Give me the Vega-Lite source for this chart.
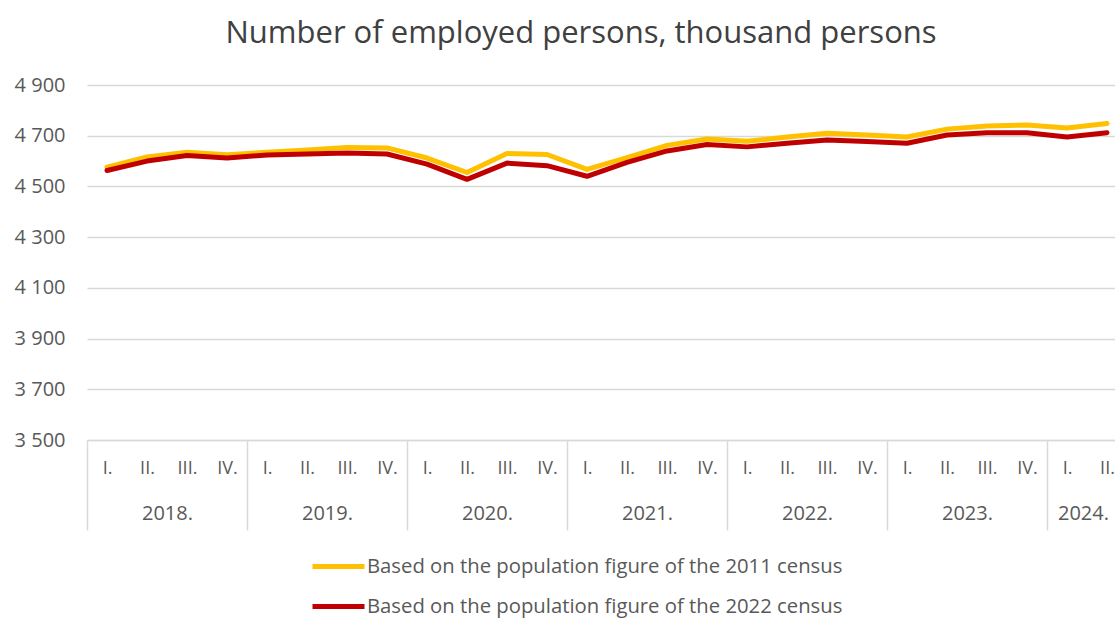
{
  "$schema": "https://vega.github.io/schema/vega-lite/v6.json",
  "autosize": {"type": "none"},
  "width": 1028,
  "height": 355,
  "padding": {"left": 87, "top": 85, "right": 0, "bottom": 179},
  "background": "white",
  "config": {
    "view": {"stroke": null},
    "font": "Open Sans"
  },
  "title": {
    "text": "Number of employed persons, thousand persons",
    "fontSize": 31,
    "font": "Open Sans",
    "fontWeight": "normal",
    "color": "#404040",
    "anchor": "middle",
    "dx": -20,
    "offset": 25
  },
  "data": {
    "values": [
      {"i": 0, "s": "Based on the population figure of the 2011 census", "v": 4576},
      {"i": 1, "s": "Based on the population figure of the 2011 census", "v": 4616},
      {"i": 2, "s": "Based on the population figure of the 2011 census", "v": 4635},
      {"i": 3, "s": "Based on the population figure of the 2011 census", "v": 4625},
      {"i": 4, "s": "Based on the population figure of the 2011 census", "v": 4635},
      {"i": 5, "s": "Based on the population figure of the 2011 census", "v": 4644},
      {"i": 6, "s": "Based on the population figure of the 2011 census", "v": 4654},
      {"i": 7, "s": "Based on the population figure of the 2011 census", "v": 4652},
      {"i": 8, "s": "Based on the population figure of the 2011 census", "v": 4612},
      {"i": 9, "s": "Based on the population figure of the 2011 census", "v": 4555},
      {"i": 10, "s": "Based on the population figure of the 2011 census", "v": 4630},
      {"i": 11, "s": "Based on the population figure of the 2011 census", "v": 4626},
      {"i": 12, "s": "Based on the population figure of the 2011 census", "v": 4567},
      {"i": 13, "s": "Based on the population figure of the 2011 census", "v": 4614},
      {"i": 14, "s": "Based on the population figure of the 2011 census", "v": 4662},
      {"i": 15, "s": "Based on the population figure of the 2011 census", "v": 4687},
      {"i": 16, "s": "Based on the population figure of the 2011 census", "v": 4678},
      {"i": 17, "s": "Based on the population figure of the 2011 census", "v": 4695},
      {"i": 18, "s": "Based on the population figure of the 2011 census", "v": 4710},
      {"i": 19, "s": "Based on the population figure of the 2011 census", "v": 4703},
      {"i": 20, "s": "Based on the population figure of the 2011 census", "v": 4695},
      {"i": 21, "s": "Based on the population figure of the 2011 census", "v": 4726},
      {"i": 22, "s": "Based on the population figure of the 2011 census", "v": 4738},
      {"i": 23, "s": "Based on the population figure of the 2011 census", "v": 4742},
      {"i": 24, "s": "Based on the population figure of the 2011 census", "v": 4730},
      {"i": 25, "s": "Based on the population figure of the 2011 census", "v": 4748},
      {"i": 0, "s": "Based on the population figure of the 2022 census", "v": 4563},
      {"i": 1, "s": "Based on the population figure of the 2022 census", "v": 4600},
      {"i": 2, "s": "Based on the population figure of the 2022 census", "v": 4622},
      {"i": 3, "s": "Based on the population figure of the 2022 census", "v": 4612},
      {"i": 4, "s": "Based on the population figure of the 2022 census", "v": 4624},
      {"i": 5, "s": "Based on the population figure of the 2022 census", "v": 4628},
      {"i": 6, "s": "Based on the population figure of the 2022 census", "v": 4632},
      {"i": 7, "s": "Based on the population figure of the 2022 census", "v": 4628},
      {"i": 8, "s": "Based on the population figure of the 2022 census", "v": 4588},
      {"i": 9, "s": "Based on the population figure of the 2022 census", "v": 4528},
      {"i": 10, "s": "Based on the population figure of the 2022 census", "v": 4592},
      {"i": 11, "s": "Based on the population figure of the 2022 census", "v": 4582},
      {"i": 12, "s": "Based on the population figure of the 2022 census", "v": 4540},
      {"i": 13, "s": "Based on the population figure of the 2022 census", "v": 4595},
      {"i": 14, "s": "Based on the population figure of the 2022 census", "v": 4640},
      {"i": 15, "s": "Based on the population figure of the 2022 census", "v": 4665},
      {"i": 16, "s": "Based on the population figure of the 2022 census", "v": 4656},
      {"i": 17, "s": "Based on the population figure of the 2022 census", "v": 4670},
      {"i": 18, "s": "Based on the population figure of the 2022 census", "v": 4683},
      {"i": 19, "s": "Based on the population figure of the 2022 census", "v": 4677},
      {"i": 20, "s": "Based on the population figure of the 2022 census", "v": 4670},
      {"i": 21, "s": "Based on the population figure of the 2022 census", "v": 4703},
      {"i": 22, "s": "Based on the population figure of the 2022 census", "v": 4712},
      {"i": 23, "s": "Based on the population figure of the 2022 census", "v": 4712},
      {"i": 24, "s": "Based on the population figure of the 2022 census", "v": 4695},
      {"i": 25, "s": "Based on the population figure of the 2022 census", "v": 4712}
    ]
  },
  "resolve": {"scale": {"x": "shared"}, "axis": {"x": "independent"}},
  "layer": [
    {
      "mark": {"type": "line", "strokeWidth": 5, "strokeJoin": "round", "strokeCap": "round"},
      "encoding": {
        "x": {
          "field": "i", "type": "quantitative",
          "scale": {"domain": [-0.5, 25.2], "nice": false, "zero": false},
          "axis": {
            "orient": "bottom",
            "values": [0,1,2,3,4,5,6,7,8,9,10,11,12,13,14,15,16,17,18,19,20,21,22,23,24,25],
            "labelExpr": "['I.','II.','III.','IV.'][datum.value % 4]",
            "title": null, "grid": false, "ticks": false,
            "domain": true, "domainColor": "#d9d9d9", "domainWidth": 1.5,
            "labelPadding": 19, "labelFontSize": 18, "labelColor": "#595959",
            "labelFont": "Open Sans"
          }
        },
        "y": {
          "field": "v", "type": "quantitative",
          "scale": {"domain": [3500, 4900], "nice": false, "zero": false},
          "axis": {
            "values": [3500, 3700, 3900, 4100, 4300, 4500, 4700, 4900],
            "labelExpr": "replace(format(datum.value, ','), ',', ' ')",
            "title": null, "domain": false, "ticks": false,
            "grid": true, "gridColor": "#d9d9d9", "gridWidth": 1.5,
            "labelPadding": 22, "labelFontSize": 20, "labelColor": "#595959",
            "labelFont": "Open Sans"
          }
        },
        "color": {
          "field": "s", "type": "nominal",
          "scale": {
            "domain": ["Based on the population figure of the 2011 census", "Based on the population figure of the 2022 census"],
            "range": ["#FFC000", "#C00000"]
          },
          "legend": {
            "title": null, "orient": "none", "direction": "vertical",
            "legendX": 229, "legendY": 459,
            "symbolType": "M-1.3,0H1.3", "symbolSize": 1600, "symbolStrokeWidth": 5,
            "labelOffset": 6, "rowPadding": 7, "padding": 0,
            "labelFontSize": 20.3, "labelColor": "#595959", "labelFont": "Open Sans",
            "labelLimit": 700
          }
        }
      }
    },
    {
      "mark": {"type": "point", "opacity": 0},
      "encoding": {
        "x": {
          "field": "i", "type": "quantitative",
          "axis": {
            "orient": "bottom",
            "values": [1.5, 5.5, 9.5, 13.5, 17.5, 21.5, 24.4],
            "labelExpr": "(2018 + floor(datum.value / 4)) + '.'",
            "title": null, "grid": false, "ticks": false, "domain": false,
            "labelPadding": 63, "labelFontSize": 20, "labelColor": "#595959",
            "labelFont": "Open Sans"
          }
        },
        "y": {"field": "v", "type": "quantitative"}
      }
    },
    {
      "mark": {"type": "point", "opacity": 0},
      "encoding": {
        "x": {
          "field": "i", "type": "quantitative",
          "axis": {
            "orient": "bottom",
            "values": [-0.5, 3.5, 7.5, 11.5, 15.5, 19.5, 23.5],
            "labels": false, "title": null, "grid": false, "domain": false,
            "ticks": true, "tickSize": 90, "tickColor": "#d9d9d9", "tickWidth": 1.5
          }
        },
        "y": {"field": "v", "type": "quantitative"}
      }
    }
  ]
}
